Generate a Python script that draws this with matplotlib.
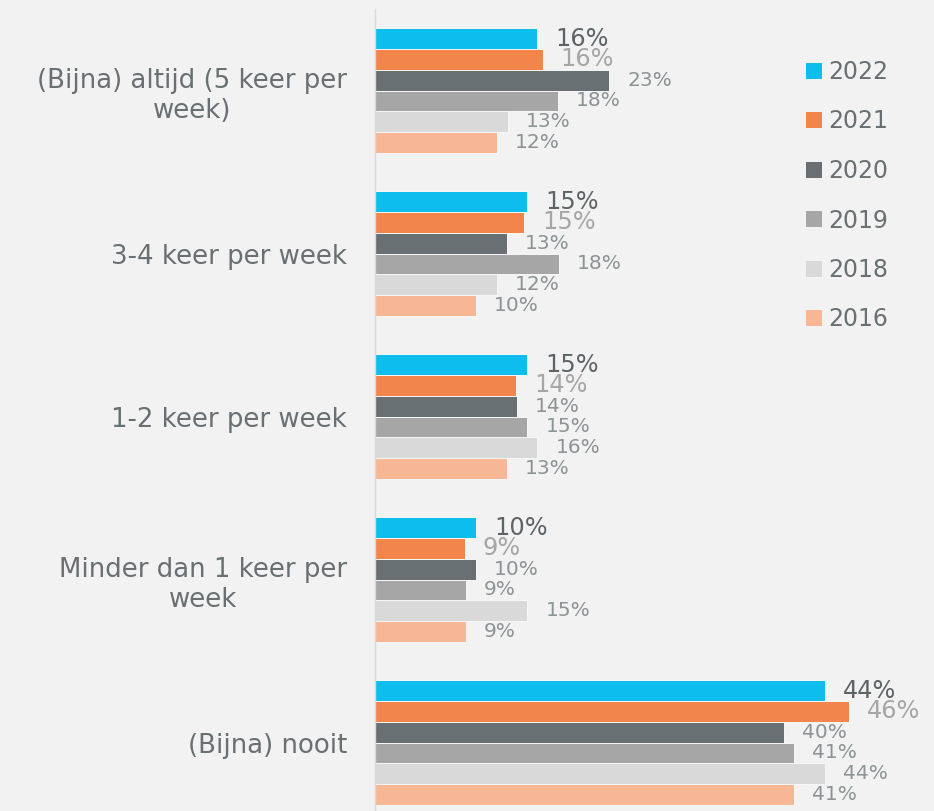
import matplotlib
matplotlib.use("Agg")
import matplotlib.pyplot as plt
from matplotlib.patches import Patch
import numpy as np

categories = ["(Bijna) altijd (5 keer per\nweek)", "3-4 keer per week", "1-2 keer per week",
              "Minder dan 1 keer per\nweek", "(Bijna) nooit"]
years = ["2022", "2021", "2020", "2019", "2018", "2016"]
values = {
    "2022": [15.9, 14.9, 14.9, 9.9, 44.0],
    "2021": [16.4, 14.6, 13.8, 8.8, 46.4],
    "2020": [22.9, 12.9, 13.9, 9.9, 40.0],
    "2019": [17.9, 18.0, 14.9, 8.9, 41.0],
    "2018": [13.0, 11.9, 15.9, 14.9, 44.0],
    "2016": [11.9, 9.9, 12.9, 8.9, 41.0],
}
colors = {
    "2022": "#0dbdee",
    "2021": "#f2854a",
    "2020": "#687073",
    "2019": "#a6a6a6",
    "2018": "#d9d9d9",
    "2016": "#f7b794",
}
label_colors = {
    "2022": "#5d6467",
    "2021": "#a6a6a6",
    "2020": "#8b9395",
    "2019": "#8b9395",
    "2018": "#8b9395",
    "2016": "#8b9395",
}
label_sizes = {"2022": 17.3, "2021": 17.3, "2020": 14.5, "2019": 14.5, "2018": 14.5, "2016": 14.5}

bg = "#f2f2f2"
text_col = "#687073"

W, H = 934, 811
px_per_unit = 10.22
fig = plt.figure(figsize=(W / 100, H / 100), dpi=100, facecolor=bg)
ax = fig.add_axes([375 / W, 0, 1 - 375 / W, 1 - 9 / H], facecolor=bg)

n = len(years)
h = 20.8 / 163
y = np.arange(len(categories))
for j, yr in enumerate(years):
    pos = y - (n / 2) * h + (j + 0.5) * h
    vals = values[yr]
    ax.barh(pos, vals, height=h, color=colors[yr], edgecolor="#f7f7f7", linewidth=0.7, label=yr, zorder=2)
    for p, v in zip(pos, vals):
        ax.annotate(f"{round(v)}%", xy=(v, p), xytext=(13, 0), textcoords="offset points",
                    ha="left", va="center", color=label_colors[yr],
                    fontsize=label_sizes[yr], family="DejaVu Sans", zorder=3)

ax.set_xlim(0, (W - 375) / px_per_unit)
ax.set_ylim(4.42, -0.5)
ax.set_yticks(y)
ax.set_yticklabels(categories, fontsize=18.7, color=text_col, family="DejaVu Sans",
                   multialignment="center")
ax.tick_params(axis="y", length=0, pad=20)
ax.set_xticks([])
for s in ["top", "right", "bottom"]:
    ax.spines[s].set_visible(False)
ax.spines["left"].set_color("#d9d9d9")
ax.spines["left"].set_linewidth(1.0)

handles = [Patch(facecolor=colors[yr], edgecolor="none") for yr in years]
leg = fig.legend(handles, years, loc="upper left", bbox_to_anchor=(806 / W, 1 - 60 / H),
                 frameon=False, fontsize=17, handlelength=0.68, handleheight=0.68,
                 handletextpad=0.25, labelspacing=1.08, borderpad=0, borderaxespad=0)
for t in leg.get_texts():
    t.set_color(text_col)
    t.set_family("DejaVu Sans")

fig.savefig("out.png", dpi=100, facecolor=bg)
